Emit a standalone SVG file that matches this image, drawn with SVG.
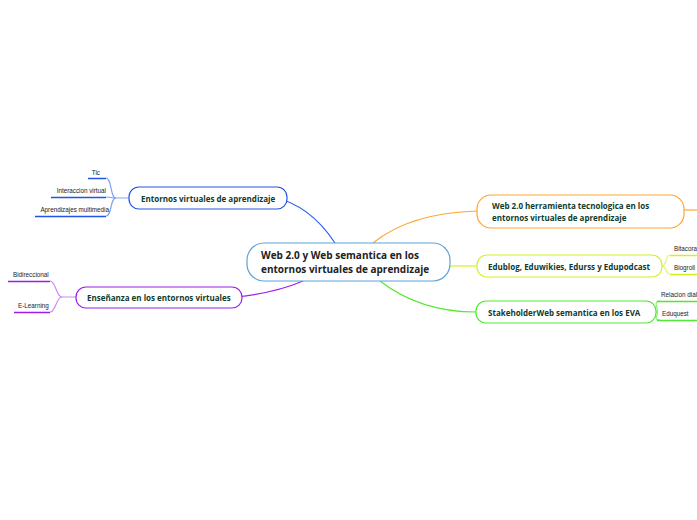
<svg xmlns="http://www.w3.org/2000/svg" width="697" height="520" viewBox="0 0 697 520">
<style>
.t{font-family:"Open Sans","Noto Sans",sans-serif;font-weight:bold;fill:#0f3b2c;font-size:8px}
.c{font-family:"Open Sans","Noto Sans",sans-serif;font-weight:bold;font-size:10px;fill:#222}
.s{font-family:"Liberation Sans",Arial,sans-serif;font-size:6.3px;fill:#222}
.n{fill:#fff;stroke-width:1.2}
.l{fill:none;stroke-width:1.2}
</style>
<rect width="697" height="520" fill="#fff"/>
<g id="connectors">
<path class="l" d="M335,243 Q310,205 273,197" stroke="#2a5ff0"/>
<path class="l" d="M303,281 Q275,293 236,297" stroke="#a020f0"/>
<path class="l" d="M373,243 Q410,213 477,211" stroke="#ffa530"/>
<path class="l" d="M684,210 L697,210" stroke="#ffa530"/>
<path class="l" d="M450,266 L477,266" stroke="#d4f020"/>
<path class="l" d="M380,281 Q420,312 476,312" stroke="#50e830"/>
<g stroke="#7fa4f5" class="l">
<path d="M129,198 L116,198 C110,198 112,178 106,178"/>
<path d="M116,198 C110,198 112,197 106,197"/>
<path d="M116,198 C110,198 112,216 106,216"/>
</g>
<g stroke="#2055e6" stroke-width="1.5">
<line x1="88" y1="178.5" x2="106" y2="178.5"/>
<line x1="51" y1="197.5" x2="106" y2="197.5"/>
<line x1="35" y1="216.5" x2="106" y2="216.5"/>
</g>
<g stroke="#c98af5" class="l">
<path d="M76,297 L62,297 C56,297 56,281 50,281"/>
<path d="M62,297 C56,297 56,312 50,312"/>
</g>
<g stroke="#9a1ee6" stroke-width="1.5">
<line x1="8" y1="281.5" x2="50" y2="281.5"/>
<line x1="14" y1="312.5" x2="50" y2="312.5"/>
</g>
<g stroke="#e0f570" class="l">
<path d="M662,266 C667,266 665,255 670,255"/>
<path d="M662,266 C667,266 665,274 670,274"/>
</g>
<g stroke="#d4f020" stroke-width="1.5">
<line x1="670" y1="255.5" x2="697" y2="255.5"/>
<line x1="670" y1="274.5" x2="697" y2="274.5"/>
</g>
<g stroke="#8af070" class="l">
<path d="M656,312 C661,312 651,301 660,301"/>
<path d="M656,312 C661,312 651,320 660,320"/>
</g>
<g stroke="#50e830" stroke-width="1.5">
<line x1="657" y1="301.5" x2="697" y2="301.5"/>
<line x1="657" y1="320.5" x2="697" y2="320.5"/>
</g>
</g>
<g id="central">
<rect class="n" x="247" y="243" width="203" height="38" rx="17" stroke="#5ba3dc"/>
<text class="c" x="261" y="259">Web 2.0 y Web semantica en los</text>
<text class="c" x="261" y="273">entornos virtuales de aprendizaje</text>
</g>
<g id="entornos">
<rect class="n" x="129" y="187" width="158" height="22" rx="10" stroke="#2055e6"/>
<text class="t" x="141" y="202">Entornos virtuales de aprendizaje</text>
</g>
<g id="tic"><text class="s" x="100" y="175" text-anchor="end">Tic</text></g>
<g id="interaccion"><text class="s" x="106" y="193" text-anchor="end">Interaccion virtual</text></g>
<g id="aprendizajes"><text class="s" x="109" y="212" text-anchor="end">Aprendizajes multimedia</text></g>
<g id="ensenanza">
<rect class="n" x="76" y="287" width="166" height="21" rx="10" stroke="#9a1ee6"/>
<text class="t" x="87" y="301">Enseñanza en los entornos virtuales</text>
</g>
<g id="bidireccional"><text class="s" x="13" y="277">Bidireccional</text></g>
<g id="elearning"><text class="s" x="18" y="308">E-Learning</text></g>
<g id="web20">
<rect class="n" x="477" y="195" width="207" height="33" rx="14" stroke="#ffa530"/>
<text class="t" x="492" y="209">Web 2.0 herramienta tecnologica en los</text>
<text class="t" x="492" y="221">entornos virtuales de aprendizaje</text>
</g>
<g id="edublog">
<rect class="n" x="477" y="255" width="185" height="22" rx="10" stroke="#d4f020"/>
<text class="t" x="488" y="270">Edublog, Eduwikies, Edurss y Edupodcast</text>
</g>
<g id="bitacora"><text class="s" x="674" y="251">Bitacora</text></g>
<g id="biogroll"><text class="s" x="674" y="270">Biogroll</text></g>
<g id="stakeholder">
<rect class="n" x="476" y="301" width="180" height="22" rx="10" stroke="#50e830"/>
<text class="t" x="488" y="316">StakeholderWeb semantica en los EVA</text>
</g>
<g id="relacion"><text class="s" x="661" y="297" font-size="5.9">Relacion dial</text></g>
<g id="eduquest"><text class="s" x="662" y="316">Eduquest</text></g>
</svg>
